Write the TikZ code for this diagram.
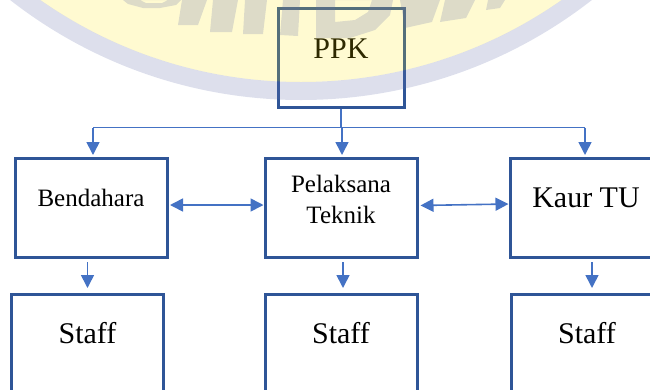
\documentclass[tikz,border=0pt]{standalone}
\usepackage{fontspec}
\setmainfont{Liberation Serif}
\usetikzlibrary{arrows.meta}
\definecolor{boxblue}{RGB}{47,85,151}
\definecolor{linkblue}{RGB}{68,114,196}
\definecolor{wmyellow}{RGB}{255,230,0}
\definecolor{wmlav}{RGB}{100,110,170}
\begin{document}
\begin{tikzpicture}[x=1pt,y=-1pt,
  box/.style={draw=boxblue,line width=3pt,inner sep=0pt,minimum width=152pt,minimum height=99pt,align=center,text=black},
  bigtext/.style={font=\fontsize{30}{33}\selectfont},
  smalltext/.style={font=\fontsize{25}{31}\selectfont},
  link/.style={draw=linkblue,line width=1.6pt},
  arr/.style={link,-{Triangle[length=13pt,width=13pt]}},
  darr/.style={link,{Triangle[length=13pt,width=13pt]}-{Triangle[length=13pt,width=13pt]}},
  wmring/.style={fill=wmlav,fill opacity=0.22},
  wmfill/.style={fill=wmyellow,fill opacity=0.18}]
\useasboundingbox (0,0) rectangle (650,389);
\begin{scope}
\clip (0,0) rectangle (650,389);
% boxes
\node[box,bigtext,minimum width=126pt,text height=50pt,text depth=49pt] (ppk) at (341,57.5) {PPK};
\node[box,smalltext,text height=48pt,text depth=51pt] (bend) at (91,207.5) {Bendahara};
\node[box,smalltext,text height=65pt,text depth=34pt] (pel) at (341,207.5) {Pelaksana\\Teknik};
\node[box,bigtext,text height=49pt,text depth=50pt] (kaur) at (586,207.5) {Kaur TU};
\node[box,bigtext,text height=49pt,text depth=50pt] (s1) at (87.5,343.5) {Staff};
\node[box,bigtext,text height=49pt,text depth=50pt] (s2) at (341,343.5) {Staff};
\node[box,bigtext,text height=49pt,text depth=50pt] (s3) at (587,343.5) {Staff};
% connectors
\coordinate (busy) at (0,127.5);
\draw[link] (ppk.south) -- (ppk.south |- busy);
\draw[link] ([xshift=2pt]bend.north |- busy) -- ([xshift=-1pt]kaur.north |- busy);
\draw[arr,shorten >=1.5pt] ([xshift=2pt]bend.north |- busy) -- ([xshift=2pt]bend.north);
\draw[arr,shorten >=1.5pt] ([xshift=1pt]pel.north |- busy) -- ([xshift=1pt]pel.north);
\draw[arr,shorten >=1.5pt] ([xshift=-1pt]kaur.north |- busy) -- ([xshift=-1pt]kaur.north);
\draw[darr,shorten <=1.5pt] ([yshift=2.5pt]bend.east) -- ([yshift=2.5pt]pel.west);
\draw[darr,shorten <=2pt] ([yshift=2pt]pel.east) -- ([yshift=3.5pt]kaur.west);
\draw[arr,shorten <=3.5pt,shorten >=4.5pt] (s1.north |- bend.south) -- (s1.north);
\draw[arr,shorten <=3.5pt,shorten >=4.5pt] ([xshift=2pt]s2.north |- pel.south) -- ([xshift=2pt]s2.north);
\draw[arr,shorten <=3.5pt,shorten >=4.5pt] ([xshift=5pt]s3.north |- kaur.south) -- ([xshift=5pt]s3.north);
% watermark
\fill[wmfill] (301,-373) circle (455);
\fill[wmring,even odd rule] (301,-373) circle (473) (301,-373) circle (455);
\fill[wmring,even odd rule] (123,0) -- (181,0) -- (176,5) -- (160,8) -- (143,8) -- (128,4) -- cycle
  (140,0) -- (168,0) -- (162,3) -- (146,3) -- cycle;
\fill[wmring] (182,0) -- (207,0) -- (198,25) -- (178,25) -- cycle;
\fill[wmring] (213,0) -- (238,0) -- (232,32) -- (210,32) -- cycle;
\fill[wmring] (245,0) -- (267,0) -- (263,34) -- (243,34) -- cycle;
\fill[wmring] (283,0) -- (300,0) -- (298,36) -- (280,35) -- cycle;
\fill[wmring,even odd rule] (316,0) -- (393,0) -- (390,15) -- (375,30) -- (350,38) -- (316,38) -- cycle
  (335,0) -- (372,0) -- (368,12) -- (355,20) -- (335,22) -- cycle;
\fill[wmring] (400,0) -- (440,0) -- (432,22) -- (405,28) -- cycle;
\fill[wmring] (445,0) -- (475,0) -- (466,18) -- (440,22) -- cycle;
\fill[wmring] (488,0) -- (505,0) -- (500,8) -- (486,10) -- cycle;
\end{scope}
\end{tikzpicture}
\end{document}
